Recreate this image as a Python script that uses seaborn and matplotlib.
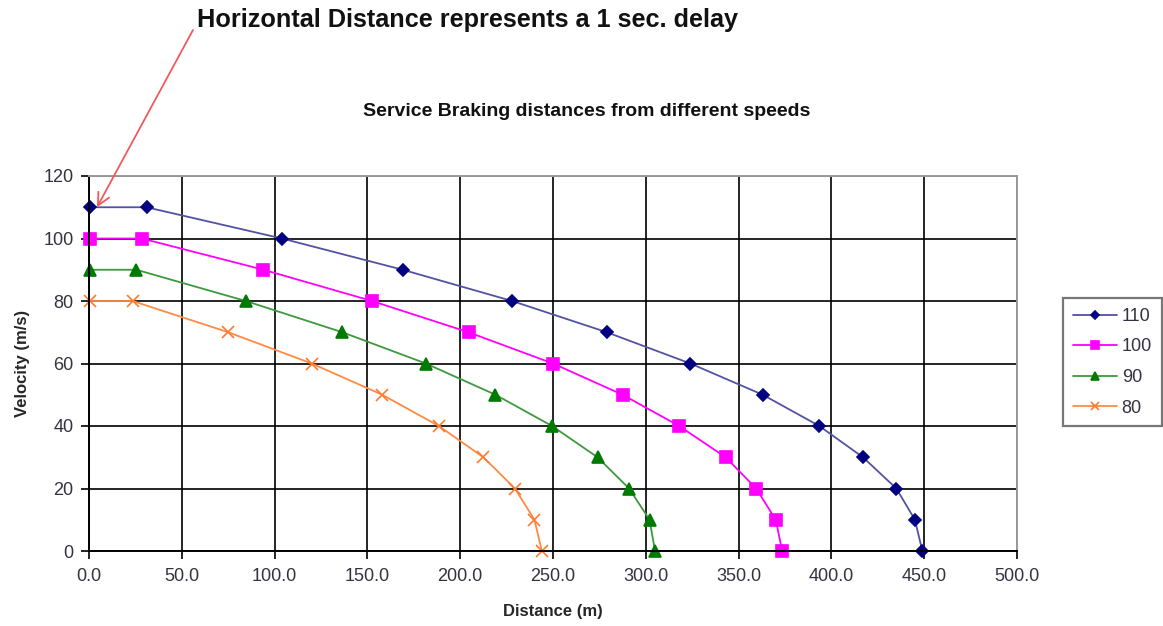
import pandas as pd
import seaborn as sns
import matplotlib.pyplot as plt

# velocities (m/s axis) shared by every run, one list per start speed
vel_110 = [110, 110, 100, 90, 80, 70, 60, 50, 40, 30, 20, 10, 0]
dist_110 = [0.5, 31.0, 104.0, 169.0, 228.0, 279.0, 324.0, 363.0, 393.5, 417.0, 435.0, 445.0, 449.0]

vel_100 = [100, 100, 90, 80, 70, 60, 50, 40, 30, 20, 10, 0]
dist_100 = [0.8, 28.5, 94.0, 152.5, 204.5, 250.0, 287.5, 318.0, 343.0, 359.5, 370.0, 373.5]

vel_90 = [90, 90, 80, 70, 60, 50, 40, 30, 20, 10, 0]
dist_90 = [0.5, 25.5, 84.5, 136.5, 181.5, 219.0, 249.5, 274.0, 291.0, 302.0, 305.0]

vel_80 = [80, 80, 70, 60, 50, 40, 30, 20, 10, 0]
dist_80 = [0.5, 23.5, 75.0, 120.0, 158.0, 188.5, 212.5, 229.5, 240.0, 244.0]

x_ticks = [0, 50, 100, 150, 200, 250, 300, 350, 400, 450, 500]
y_ticks = [0, 20, 40, 60, 80, 100, 120]

series = [
    ("110", dist_110, vel_110, "#5252a3", "#000080", "D", 6),
    ("100", dist_100, vel_100, "#ff00ff", "#ff00ff", "s", 8),
    ("90", dist_90, vel_90, "#3c9a3c", "#007a00", "^", 8),
    ("80", dist_80, vel_80, "#ff8a45", "#ff7a30", "x", 8),
]

sns.set_theme(style="white")
plt.rcParams["font.family"] = ["Liberation Sans", "DejaVu Sans"]

fig = plt.figure(figsize=(11.63, 6.26), dpi=100)
ax = fig.add_axes([89 / 1163, 1 - 551 / 626, (1017 - 89) / 1163, (551 - 176) / 626])

for name, xs, ys, line_c, mark_c, mk, ms in series:
    df = pd.DataFrame({"Distance": xs, "Velocity": ys})
    sns.lineplot(
        data=df, x="Distance", y="Velocity", ax=ax, sort=False, estimator=None,
        color=line_c, linewidth=1.3, marker=mk, markersize=ms,
        markerfacecolor=mark_c, markeredgecolor=mark_c,
        markeredgewidth=1.2, label=name, clip_on=False,
    )

ax.set_xlim(0, 500)
ax.set_ylim(0, 120)
ax.set_xticks(x_ticks)
ax.set_xticklabels([f"{v:.1f}" for v in x_ticks])
ax.set_yticks(y_ticks)
ax.grid(True, color="black", linewidth=1.2)
ax.set_axisbelow(True)
for side in ["left", "bottom"]:
    ax.spines[side].set_color("black")
    ax.spines[side].set_linewidth(1.4)
for side in ["top", "right"]:
    ax.spines[side].set_color("#9a9a9a")
    ax.spines[side].set_linewidth(1.4)
ax.tick_params(axis="both", which="major", direction="out", length=6, width=1.2,
               color="black", labelsize=13, labelcolor="#333340", left=True, bottom=True)
ax.tick_params(axis="y", pad=5)
ax.tick_params(axis="x", pad=6)

ax.set_xlabel("Distance (m)", fontsize=12, fontweight="bold", labelpad=14)
ax.set_ylabel("Velocity (m/s)", fontsize=12, fontweight="bold", labelpad=10)

fig.text(587 / 1163, 1 - 111 / 626, "Service Braking distances from different speeds",
         ha="center", va="center", fontsize=14, fontweight="bold", color="#111111")

fig.text(197 / 1163, 1 - 20 / 626, "Horizontal Distance represents a 1 sec. delay",
         ha="left", va="center", fontsize=18.2, fontweight="bold", color="#111111")
ax.annotate("", xy=(4.3, 110), xycoords="data",
            xytext=(193 / 1163, 1 - 30 / 626), textcoords="figure fraction",
            arrowprops=dict(arrowstyle="->", color="#f05a5a", lw=1.3,
                            mutation_scale=22, shrinkA=0, shrinkB=0))

ax.get_legend().remove()
handles, labels = ax.get_legend_handles_labels()
leg = fig.legend(handles, labels, loc="upper left",
                 bbox_to_anchor=(1063 / 1163, 1 - 298 / 626), borderaxespad=0,
                 fontsize=13, frameon=True, fancybox=False, handlelength=2.45,
                 labelspacing=0.75, borderpad=0.55, handletextpad=0.25, markerscale=0.75)
leg.get_frame().set_edgecolor("#555555")
leg.get_frame().set_linewidth(1.6)
for t in leg.get_texts():
    t.set_color("#333340")

fig.savefig("out.png", dpi=100)
